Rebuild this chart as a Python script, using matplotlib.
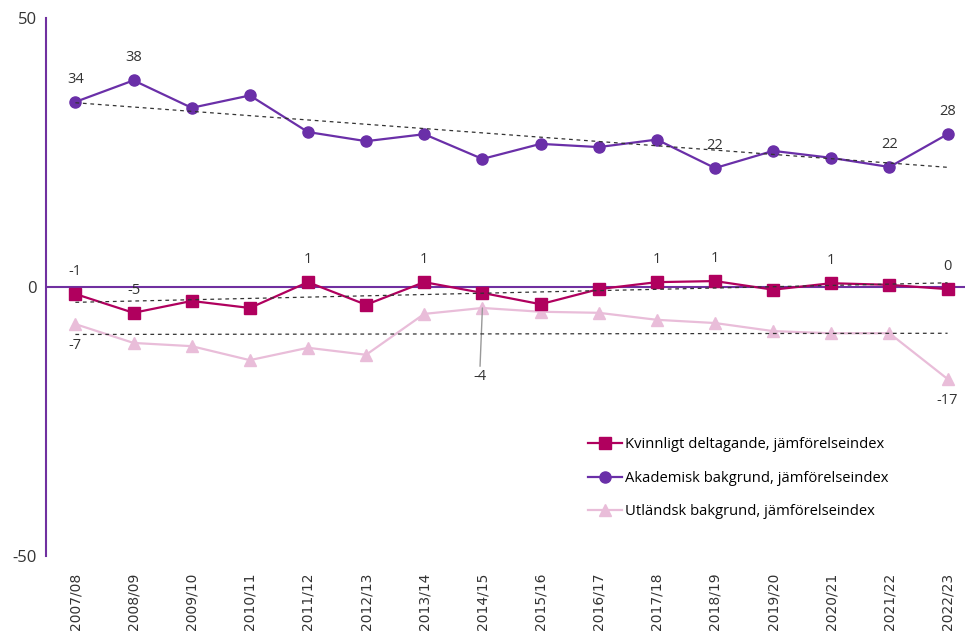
import numpy as np
import matplotlib.pyplot as plt

years = ['2007/08', '2008/09', '2009/10', '2010/11', '2011/12', '2012/13', '2013/14', '2014/15',
         '2015/16', '2016/17', '2017/18', '2018/19', '2019/20', '2020/21', '2021/22', '2022/23']
kvinnligt = [-1.3, -4.8, -2.6, -3.9, 0.9, -3.3, 0.9, -1.1, -3.2, -0.4, 0.9, 1.1, -0.5, 0.7, 0.4, -0.4]
akademisk = [34.4, 38.4, 33.3, 35.6, 28.8, 27.1, 28.4, 23.8, 26.6, 26.0, 27.4, 22.1, 25.3, 24.0, 22.3, 28.4]
utlandsk = [-6.9, -10.4, -11.0, -13.6, -11.3, -12.6, -5.0, -3.9, -4.6, -4.8, -6.1, -6.7, -8.2, -8.6, -8.6, -17.1]

# which points get a value label
kv_labels = [0, 1, 4, 6, 10, 11, 13, 15]
ak_labels = [0, 1, 11, 14, 15]
ut_labels = [0, 7, 15]

c_kv = '#B0005E'
c_ak = '#6A2FA8'
c_ut = '#E9BDD9'
c_axis = '#7030A0'

plt.rcParams['font.family'] = ['Open Sans', 'DejaVu Sans']
plt.rcParams['axes.unicode_minus'] = False

fig = plt.figure(figsize=(9.65, 6.35), dpi=100)
ax = fig.add_axes([0.048, 0.1244, 0.952, 0.8473])

x = np.arange(len(years))

ax.axhline(0, color=c_axis, lw=1.5, zorder=1)

ax.plot(x, kvinnligt, color=c_kv, marker='s', ms=8, lw=1.6, label='Kvinnligt deltagande, jämförelseindex', zorder=4)
ax.plot(x, akademisk, color=c_ak, marker='o', ms=8, lw=1.6, label='Akademisk bakgrund, jämförelseindex', zorder=4)
ax.plot(x, utlandsk, color=c_ut, marker='^', ms=8, lw=1.6, label='Utländsk bakgrund, jämförelseindex', zorder=3)

# linear trend lines
for s in (kvinnligt, akademisk, utlandsk):
    k, m = np.polyfit(x, s, 1)
    ax.plot(x, k * x + m, color='#333333', ls=(0, (3, 3)), lw=0.9, zorder=5)


def lab(v):
    return str(int(round(v)))


fs = 10.5
for i in kv_labels:
    ax.annotate(lab(kvinnligt[i]), (x[i], kvinnligt[i]), textcoords='offset points',
                xytext=(0, 11), ha='center', va='bottom', fontsize=fs, color='#333333')
for i in ak_labels:
    ax.annotate(lab(akademisk[i]), (x[i], akademisk[i]), textcoords='offset points',
                xytext=(0, 11), ha='center', va='bottom', fontsize=fs, color='#333333')
for i in ut_labels:
    if i == 7:
        ax.annotate(lab(utlandsk[i]), (x[i], utlandsk[i]), textcoords='offset points',
                    xytext=(-2, -44), ha='center', va='top', fontsize=fs, color='#333333',
                    arrowprops=dict(arrowstyle='-', color='#999999', lw=1, shrinkA=0, shrinkB=0))
    else:
        ax.annotate(lab(utlandsk[i]), (x[i], utlandsk[i]), textcoords='offset points',
                    xytext=(0, -10), ha='center', va='top', fontsize=fs, color='#333333')

ax.set_ylim(-50, 50)
ax.set_yticks([-50, 0, 50])
ax.set_xlim(-0.5, 15.3)
ax.set_xticks(x)
ax.set_xticklabels(years, rotation=90, fontsize=10, family='DejaVu Sans')
ax.tick_params(axis='both', length=0, colors='#333333')
ax.tick_params(axis='y', labelsize=12, pad=7)
ax.tick_params(axis='x', pad=12)

for sp in ['top', 'right', 'bottom']:
    ax.spines[sp].set_visible(False)
ax.spines['left'].set_color(c_axis)
ax.spines['left'].set_linewidth(1.5)

ax.legend(loc='upper left', bbox_to_anchor=(0.575, 0.245), frameon=False, fontsize=10.6,
          handlelength=2.3, labelspacing=1.25, handletextpad=0.2)

plt.savefig('out.png', dpi=100)
